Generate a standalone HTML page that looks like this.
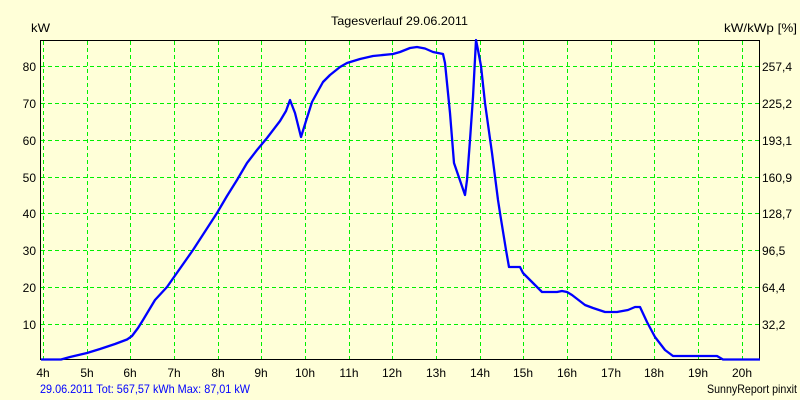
<!DOCTYPE html>
<html><head><meta charset="utf-8"><style>
html,body{margin:0;padding:0;background:#FFFFD8;}
svg{display:block;}
text{font-family:"Liberation Sans",Arial,sans-serif;font-size:12px;fill:#000;}
</style></head><body>
<svg width="800" height="400" viewBox="0 0 800 400" xmlns="http://www.w3.org/2000/svg">
<rect x="0" y="0" width="800" height="400" fill="#FFFFD8"/>
<g stroke="#00F000" stroke-width="1" stroke-dasharray="4,3" fill="none">
<line x1="41" y1="66.5" x2="759" y2="66.5"/>
<line x1="41" y1="103.5" x2="759" y2="103.5"/>
<line x1="41" y1="140.5" x2="759" y2="140.5"/>
<line x1="41" y1="177.5" x2="759" y2="177.5"/>
<line x1="41" y1="213.5" x2="759" y2="213.5"/>
<line x1="41" y1="250.5" x2="759" y2="250.5"/>
<line x1="41" y1="287.5" x2="759" y2="287.5"/>
<line x1="41" y1="324.5" x2="759" y2="324.5"/>
<line x1="43.5" y1="41" x2="43.5" y2="360"/>
<line x1="87.5" y1="41" x2="87.5" y2="360"/>
<line x1="130.5" y1="41" x2="130.5" y2="360"/>
<line x1="174.5" y1="41" x2="174.5" y2="360"/>
<line x1="218.5" y1="41" x2="218.5" y2="360"/>
<line x1="261.5" y1="41" x2="261.5" y2="360"/>
<line x1="305.5" y1="41" x2="305.5" y2="360"/>
<line x1="349.5" y1="41" x2="349.5" y2="360"/>
<line x1="392.5" y1="41" x2="392.5" y2="360"/>
<line x1="436.5" y1="41" x2="436.5" y2="360"/>
<line x1="480.5" y1="41" x2="480.5" y2="360"/>
<line x1="523.5" y1="41" x2="523.5" y2="360"/>
<line x1="567.5" y1="41" x2="567.5" y2="360"/>
<line x1="611.5" y1="41" x2="611.5" y2="360"/>
<line x1="654.5" y1="41" x2="654.5" y2="360"/>
<line x1="698.5" y1="41" x2="698.5" y2="360"/>
<line x1="742.5" y1="41" x2="742.5" y2="360"/>
</g>
<rect x="40.5" y="40.5" width="719" height="319" fill="none" stroke="#000" stroke-width="1"/>
<polyline fill="none" stroke="#0000FF" stroke-width="2.3" stroke-linejoin="round"
points="41,359.5 61,359.5 70,357 87,353 100,349 115,344 127,339.5 132,336 138,328 143,320 155,300 167,287 193,250 217,213 227,196 237,180 247,163 257,150 267,138 280,121 286,111 290,100 295,113 301,137 306,121 312,102 318,91 323,82 330,75 340,67 347,63 360,59 373,56 393,54 400,52 410,48 417,47 425,48.5 433,52 443,54 445,63 450,113 454,163 465,195 467,180 470,140 473,97 476,40 478,50 481,66 485,103 492,153 498,200 500,213 506,250 509,267 520,267 523,273 542,292 557,292 562,291 567,292 572,295 585,305 593,308 605,312 617,312 628,310 635,307 640,307 647,322 655,337 665,350 673,356 717,356 723,359.5 760,359.5"/>
<text x="331" y="25" textLength="137" lengthAdjust="spacingAndGlyphs">Tagesverlauf 29.06.2011</text>
<text x="31" y="32" textLength="19" lengthAdjust="spacingAndGlyphs">kW</text>
<text x="724" y="32" textLength="73" lengthAdjust="spacingAndGlyphs">kW/kWp [%]</text>
<g text-anchor="end">
<text x="36" y="71">80</text>
<text x="36" y="108">70</text>
<text x="36" y="145">60</text>
<text x="36" y="182">50</text>
<text x="36" y="218">40</text>
<text x="36" y="255">30</text>
<text x="36" y="292">20</text>
<text x="36" y="329">10</text>
</g>
<g>
<text x="762" y="71">257,4</text>
<text x="762" y="108">225,2</text>
<text x="762" y="145">193,1</text>
<text x="762" y="182">160,9</text>
<text x="762" y="218">128,7</text>
<text x="762" y="255">96,5</text>
<text x="762" y="292">64,4</text>
<text x="762" y="329">32,2</text>
</g>
<g text-anchor="middle">
<text x="43" y="377">4h</text>
<text x="87" y="377">5h</text>
<text x="130" y="377">6h</text>
<text x="174" y="377">7h</text>
<text x="218" y="377">8h</text>
<text x="261" y="377">9h</text>
<text x="305" y="377">10h</text>
<text x="349" y="377">11h</text>
<text x="392" y="377">12h</text>
<text x="436" y="377">13h</text>
<text x="480" y="377">14h</text>
<text x="523" y="377">15h</text>
<text x="567" y="377">16h</text>
<text x="611" y="377">17h</text>
<text x="654" y="377">18h</text>
<text x="698" y="377">19h</text>
<text x="742" y="377">20h</text>
</g>
<text x="40" y="393" textLength="210" lengthAdjust="spacingAndGlyphs" style="fill:#0000FF">29.06.2011 Tot: 567,57 kWh Max: 87,01 kW</text>
<text x="707" y="393" textLength="90" lengthAdjust="spacingAndGlyphs">SunnyReport pinxit</text>
</svg>
</body></html>
